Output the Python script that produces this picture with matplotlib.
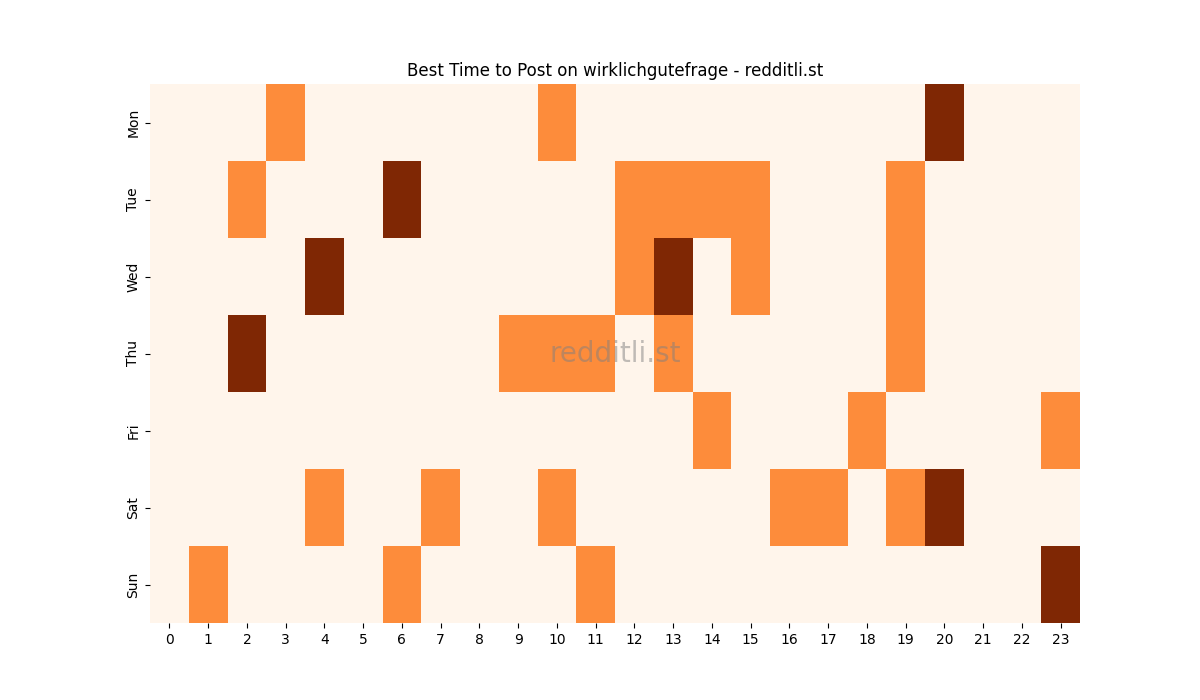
import matplotlib
matplotlib.use("Agg")
import matplotlib.pyplot as plt
import numpy as np
import seaborn as sns

days = ['Mon', 'Tue', 'Wed', 'Thu', 'Fri', 'Sat', 'Sun']
hours = list(range(24))

# 0 = no posts, 1 = some, 2 = best
mon = [0, 0, 0, 1, 0, 0, 0, 0, 0, 0, 1, 0, 0, 0, 0, 0, 0, 0, 0, 0, 2, 0, 0, 0]
tue = [0, 0, 1, 0, 0, 0, 2, 0, 0, 0, 0, 0, 1, 1, 1, 1, 0, 0, 0, 1, 0, 0, 0, 0]
wed = [0, 0, 0, 0, 2, 0, 0, 0, 0, 0, 0, 0, 1, 2, 0, 1, 0, 0, 0, 1, 0, 0, 0, 0]
thu = [0, 0, 2, 0, 0, 0, 0, 0, 0, 1, 1, 1, 0, 1, 0, 0, 0, 0, 0, 1, 0, 0, 0, 0]
fri = [0, 0, 0, 0, 0, 0, 0, 0, 0, 0, 0, 0, 0, 0, 1, 0, 0, 0, 1, 0, 0, 0, 0, 1]
sat = [0, 0, 0, 0, 1, 0, 0, 1, 0, 0, 1, 0, 0, 0, 0, 0, 1, 1, 0, 1, 2, 0, 0, 0]
sun = [0, 1, 0, 0, 0, 0, 1, 0, 0, 0, 0, 1, 0, 0, 0, 0, 0, 0, 0, 0, 0, 0, 0, 2]

data = np.array([mon, tue, wed, thu, fri, sat, sun])

fig, ax = plt.subplots(figsize=(12, 7), dpi=100)
sns.heatmap(data, cmap='Oranges', cbar=False, ax=ax,
            xticklabels=hours, yticklabels=days)
ax.set_title('Best Time to Post on wirklichgutefrage - redditli.st')
ax.text(0.5, 0.5, 'redditli.st', transform=ax.transAxes, ha='center',
        va='center', fontsize=20, color='grey', alpha=0.5)
plt.setp(ax.get_xticklabels(), rotation=0)
plt.savefig('out.png')
